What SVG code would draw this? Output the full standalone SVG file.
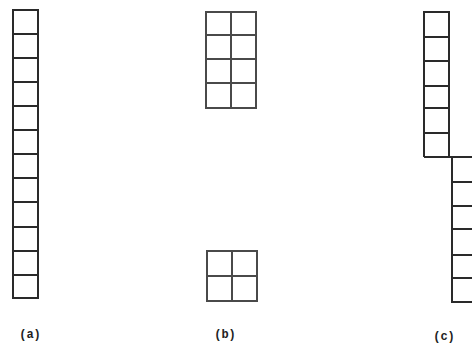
<svg xmlns="http://www.w3.org/2000/svg" width="472" height="347" viewBox="0 0 472 347">
<style>
.g{fill:none;stroke:#2a2a2a;stroke-width:2}
.gb{fill:none;stroke:#4a4a4a;stroke-width:2}
.t{font-family:"Liberation Mono",monospace;font-size:12px;font-weight:bold;fill:#222;text-anchor:middle}
</style>
<rect width="472" height="347" fill="#fff"/>
<g id="a">
<rect class="g" x="13" y="10" width="25" height="288"/>
<path class="g" d="M13 34H38M13 58H38M13 82H38M13 106H38M13 130H38M13 154H38M13 178H38M13 202H38M13 227H38M13 251H38M13 275H38"/>
<text class="t" x="30" y="338">(a)</text>
</g>
<g id="b-top">
<rect class="gb" x="206" y="12" width="50" height="96"/>
<path class="gb" d="M231 12V108M206 35H256M206 59H256M206 83H256"/>
</g>
<g id="b-bottom">
<rect class="gb" x="207" y="251" width="50" height="50"/>
<path class="gb" d="M232 251V301M207 276H257"/>
<text class="t" x="225" y="338">(b)</text>
</g>
<g id="c">
<path class="g" d="M424 157V12H449V157M424 157H472M424 37H449M424 61H449M424 86H449M424 108H449M424 133H449"/>
<path class="g" d="M452 157V302H472M452 182H472M452 206H472M452 229H472M452 255H472M452 278H472"/>
<text class="t" x="444" y="340">(c)</text>
</g>
</svg>
